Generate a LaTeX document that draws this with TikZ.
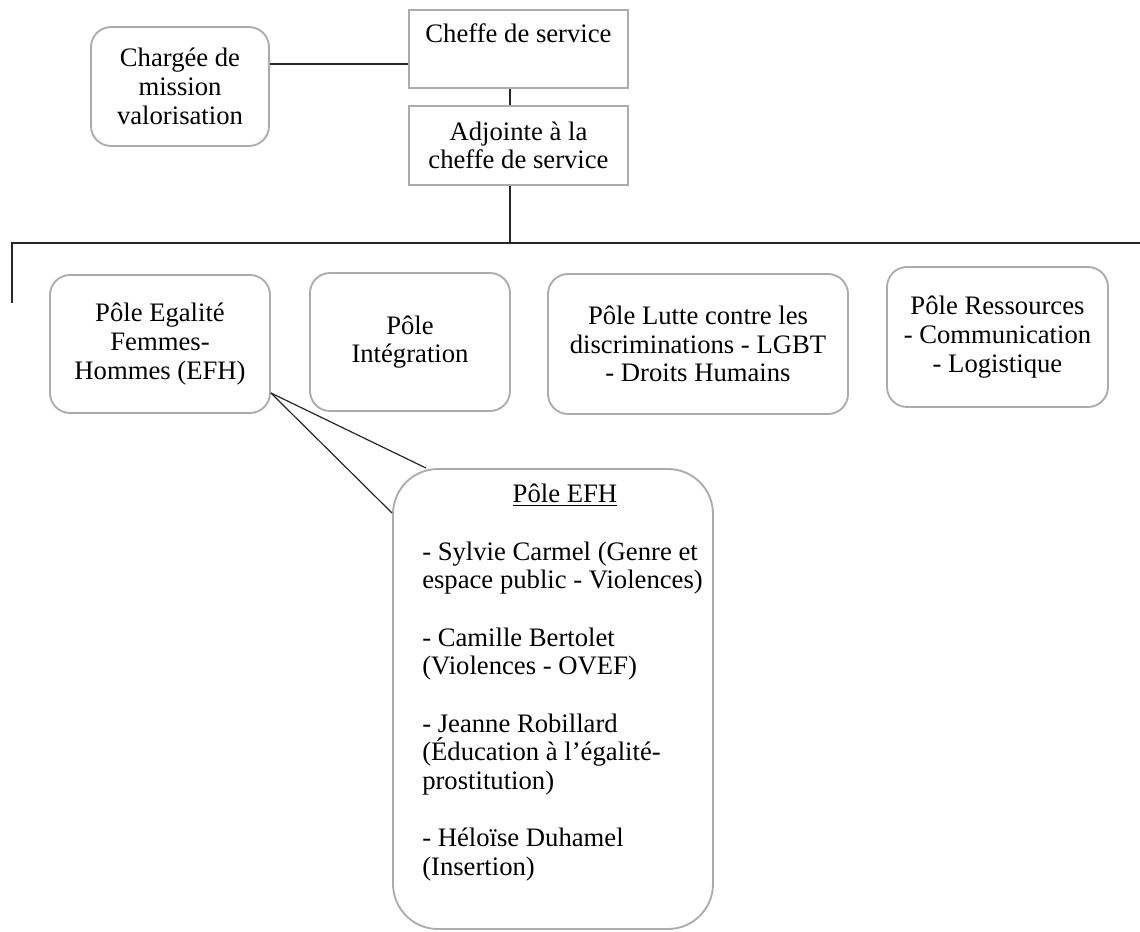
\documentclass[tikz,border=0pt]{standalone}
\usepackage{fontspec}
\setmainfont{Liberation Serif}
\begin{document}
\begin{tikzpicture}[x=0.75pt,y=-0.75pt,
		font=\fontsize{20}{21.5}\selectfont,
		box/.style={draw=gray!65, line width=1.4pt, fill=white, align=center, inner sep=2pt},
		roundbox/.style={box, rounded corners=15pt},
		link/.style={draw=black!85, line width=0.9pt}]
		% Frame
		\useasboundingbox (0,0) rectangle (1140,932);
		% Top of the chart
		\node[box, minimum width=164.25pt, inner sep=0pt, text height=24pt, text depth=34.5pt] (cheffe) at (518.5,49) {Cheffe de service};
		\node[box, minimum width=164.25pt, minimum height=59.25pt] (adjointe) at (518.5,145.5) {Adjointe à la\\cheffe de service};
		\node[roundbox, minimum width=133.5pt, minimum height=89.25pt] (chargee) at (180,86.5) {Chargée de\\mission\\valorisation};
		% Poles
		\node[roundbox, minimum width=165pt, minimum height=103.5pt] (efh) at (160,344) {Pôle Egalité\\Femmes-\\Hommes (EFH)};
		\node[roundbox, minimum width=150pt, minimum height=103.5pt] (integ) at (410,342) {Pôle\\Intégration};
		\node[roundbox, minimum width=225pt, minimum height=105pt] (discrim) at (698,344) {Pôle Lutte contre les\\discriminations - LGBT\\- Droits Humains};
		\node[roundbox, minimum width=165.75pt, minimum height=105pt] (ressources) at (997.5,337) {Pôle Ressources\\- Communication\\- Logistique};
		% Callout for the EFH pole
		\node[box, rounded corners=33.75pt, minimum width=240pt, minimum height=345pt] (efhbox) at (553,699) {};
		\node[anchor=north west, inner sep=0pt, text width=214pt, align=flush left] (efhlist) at (422,484) {\makebox[\linewidth]{\underline{Pôle EFH}}\\[\baselineskip]
			- Sylvie Carmel (Genre et\\espace public - Violences)\\[\baselineskip]
			- Camille Bertolet\\(Violences - OVEF)\\[\baselineskip]
			- Jeanne Robillard\\(Éducation à l’égalité-\\prostitution)\\[\baselineskip]
			- Héloïse Duhamel\\(Insertion)};
		% Bus line
		\coordinate (bus) at (510,243);
		\coordinate (busleft) at (12,243);
		\coordinate (busright) at (1140,243);
		\coordinate (busend) at (12,303);
		% Connectors
		\draw[link] (chargee.east |- 0,64) -- (cheffe.west |- 0,64);
		\draw[link] (cheffe.south -| bus) -- (adjointe.north -| bus);
		\draw[link] (adjointe.south -| bus) -- (bus);
		\draw[link] (busright) -- (busleft) -- (busend);
		\draw[link] (efh.east |- 0,393) -- ([xshift=25.5pt]efhbox.north west);
		\draw[link] (efh.east |- 0,393) -- ([yshift=-33.75pt]efhbox.north west);
	\end{tikzpicture}
\end{document}
